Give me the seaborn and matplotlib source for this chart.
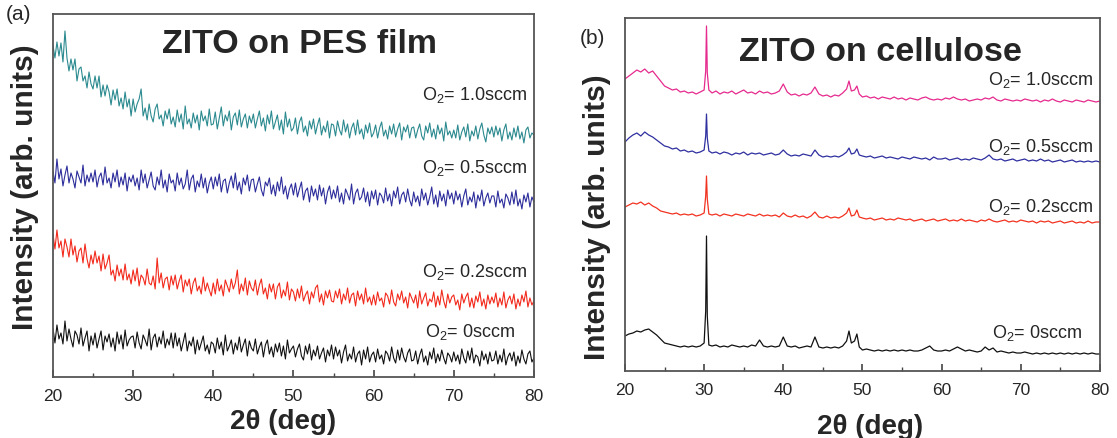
import numpy as np
import matplotlib
matplotlib.use("Agg")
import matplotlib.pyplot as plt
from matplotlib.ticker import MultipleLocator
import seaborn as sns

# ---------------- data (a): ZITO on PES film (2theta 20..80, 0.25 deg scan) ----------------
pes_10 = [332, 319, 335, 321, 334, 315, 346, 319, 306, 318, 307, 318, 296, 308, 310, 296, 301, 289, 305, 293,
          288, 301, 289, 301, 280, 292, 281, 292, 285, 272, 287, 277, 288, 271, 279, 268, 285, 270, 278, 261,
          278, 265, 273, 278, 288, 261, 269, 257, 273, 261, 255, 268, 273, 258, 262, 251, 266, 258, 268, 253,
          260, 250, 267, 255, 263, 248, 271, 253, 258, 249, 264, 254, 262, 247, 266, 256, 261, 251, 268, 252,
          253, 265, 248, 259, 270, 251, 262, 256, 266, 247, 260, 264, 252, 267, 250, 258, 263, 249, 261, 254,
          263, 249, 258, 266, 251, 259, 246, 262, 253, 266, 248, 255, 262, 247, 257, 243, 265, 250, 258, 246,
          249, 259, 243, 255, 260, 245, 251, 241, 256, 248, 258, 243, 252, 259, 242, 251, 245, 256, 239, 253,
          252, 241, 256, 247, 242, 257, 245, 253, 239, 249, 254, 242, 257, 243, 248, 238, 252, 244, 254, 240,
          244, 252, 239, 249, 255, 241, 247, 238, 251, 243, 253, 240, 248, 254, 237, 250, 245, 252, 239, 249,
          250, 239, 247, 253, 241, 237, 251, 244, 254, 240, 248, 238, 252, 243, 249, 236, 255, 242, 246, 239,
          247, 239, 252, 237, 245, 250, 240, 253, 236, 246, 241, 251, 238, 248, 254, 242, 235, 249, 243, 250,
          240, 251, 242, 249, 236, 247, 253, 238, 245, 237, 249, 240, 251, 238, 245, 234, 247, 250, 239, 244,
          242]
pes_05 = [206, 194, 218, 198, 208, 191, 202, 211, 194, 204, 198, 189, 206, 200, 194, 212, 191, 202, 195, 204,
          195, 207, 190, 200, 204, 192, 210, 194, 199, 189, 204, 195, 207, 190, 200, 192, 204, 186, 200, 195,
          202, 191, 199, 187, 207, 194, 203, 189, 197, 205, 191, 187, 200, 192, 207, 189, 197, 185, 203, 194,
          197, 186, 204, 192, 199, 188, 193, 207, 187, 198, 202, 185, 196, 190, 203, 189, 199, 184, 194, 200,
          188, 200, 191, 203, 185, 196, 198, 184, 194, 201, 189, 204, 187, 195, 183, 199, 192, 202, 186, 197,
          198, 185, 193, 200, 187, 181, 195, 191, 199, 183, 192, 181, 195, 186, 200, 183, 191, 178, 188, 193,
          182, 194, 180, 188, 195, 177, 186, 189, 175, 191, 181, 188, 177, 192, 181, 189, 173, 185, 191, 178,
          187, 179, 191, 175, 184, 173, 188, 183, 177, 193, 173, 184, 188, 177, 180, 189, 175, 185, 171, 186,
          178, 187, 172, 184, 181, 174, 189, 176, 183, 171, 186, 179, 190, 173, 182, 185, 175, 188, 177, 171,
          185, 175, 181, 171, 188, 177, 184, 172, 180, 190, 173, 182, 170, 186, 176, 183, 171, 187, 178, 184,
          173, 186, 177, 183, 170, 181, 188, 172, 180, 175, 185, 169, 182, 176, 187, 171, 179, 184, 174, 181,
          181, 170, 186, 174, 178, 169, 183, 179, 172, 185, 173, 187, 171, 178, 168, 182, 175, 184, 170, 180,
          175]
pes_02 = [143, 128, 147, 129, 136, 120, 138, 130, 120, 138, 122, 131, 115, 126, 129, 114, 133, 118, 109, 122,
          113, 126, 114, 121, 106, 123, 108, 114, 122, 102, 107, 96, 112, 101, 108, 97, 113, 97, 103, 93,
          107, 96, 109, 91, 102, 99, 92, 108, 94, 92, 101, 88, 119, 94, 104, 89, 98, 100, 87, 101,
          92, 102, 88, 96, 102, 85, 97, 91, 98, 83, 94, 99, 86, 91, 83, 100, 86, 94, 87, 81,
          94, 83, 98, 86, 92, 81, 97, 91, 85, 98, 88, 94, 107, 83, 93, 86, 99, 82, 96, 89,
          86, 97, 82, 92, 98, 83, 89, 78, 93, 85, 93, 78, 90, 94, 79, 87, 81, 95, 77, 88,
          85, 76, 88, 79, 91, 76, 82, 86, 73, 85, 79, 89, 92, 75, 83, 72, 86, 79, 87, 76,
          75, 86, 79, 88, 73, 83, 77, 89, 74, 82, 84, 71, 86, 77, 83, 73, 89, 75, 80, 72,
          82, 72, 85, 76, 79, 70, 84, 81, 73, 87, 75, 71, 83, 77, 86, 74, 80, 69, 84, 79,
          74, 82, 69, 86, 73, 79, 84, 71, 78, 75, 85, 70, 81, 72, 87, 76, 69, 83, 74, 80,
          82, 72, 77, 67, 83, 74, 80, 84, 70, 79, 69, 81, 75, 85, 71, 78, 68, 82, 73, 80,
          74, 84, 70, 79, 72, 85, 69, 77, 81, 73, 83, 68, 78, 71, 82, 75, 86, 70, 79, 72,
          76]
pes_00 = [49, 34, 52, 38, 44, 33, 56, 36, 48, 38, 30, 46, 42, 33, 49, 31, 39, 46, 26, 41,
          32, 44, 29, 38, 46, 27, 41, 35, 43, 30, 39, 26, 45, 33, 42, 28, 47, 31, 37, 40,
          41, 29, 45, 34, 28, 42, 37, 31, 48, 27, 39, 43, 30, 40, 33, 46, 29, 38, 32, 44,
          29, 44, 31, 39, 26, 35, 44, 26, 36, 31, 40, 23, 37, 27, 34, 41, 26, 32, 23, 35,
          33, 24, 39, 28, 35, 22, 42, 26, 31, 37, 23, 34, 27, 40, 25, 32, 38, 21, 36, 29,
          26, 38, 23, 30, 35, 20, 32, 37, 23, 30, 20, 33, 25, 34, 21, 31, 18, 37, 24, 28,
          31, 20, 28, 33, 21, 17, 31, 23, 33, 17, 27, 21, 31, 18, 24, 29, 15, 27, 21, 32,
          18, 30, 21, 27, 14, 25, 32, 16, 23, 18, 30, 15, 23, 26, 12, 27, 18, 30, 15, 22,
          25, 15, 28, 18, 22, 13, 26, 23, 16, 30, 19, 14, 27, 17, 29, 20, 15, 24, 28, 16,
          17, 26, 13, 22, 28, 15, 21, 12, 25, 18, 29, 14, 23, 16, 27, 19, 13, 24, 21, 15,
          25, 16, 22, 13, 28, 19, 14, 26, 17, 29, 14, 22, 20, 11, 26, 17, 23, 13, 25, 16,
          17, 26, 13, 22, 15, 28, 12, 20, 24, 16, 25, 11, 21, 14, 27, 18, 13, 23, 26, 15,
          19]

# ---------------- data (b): ZITO on cellulose ----------------
cel_x = np.concatenate([np.arange(20, 30, 0.5),
                        [30.0, 30.2, 30.3, 30.4, 30.6],
                        np.arange(31, 40.01, 0.5),
                        np.arange(40.5, 48.01, 0.5),
                        [48.3, 48.6, 49.0, 49.3, 49.6],
                        np.arange(50, 80.01, 0.5)])
cel_10 = ([292, 295, 298, 301, 299, 302, 298, 300, 295, 290, 285, 283, 281, 282, 279, 280, 278, 279, 277, 279]
          + [281, 300, 345, 298, 281]
          + [278, 280, 277, 279, 278, 280, 277, 279, 281, 278, 279, 277, 280, 278, 279, 277, 278, 280, 287]
          + [279, 276, 277, 275, 277, 276, 278, 284, 277, 275, 276, 274, 276, 275, 278, 282]
          + [290, 280, 281, 285, 277]
          + [274, 275, 273, 274, 272, 274, 273, 272, 274, 272,
             273, 271, 273, 272, 271, 273, 274, 272, 271, 272,
             271, 273, 272, 274, 272, 271, 272, 270, 271, 272,
             271, 273, 272, 274, 271, 270, 272, 271, 270, 271,
             270, 272, 271, 270, 271, 269, 271, 270, 272, 270,
             269, 271, 270, 269, 271, 270, 269, 271, 270, 269, 270])
cel_05 = ([229, 233, 236, 238, 235, 239, 236, 234, 231, 228, 225, 224, 222, 223, 220, 221, 219, 220, 218, 219]
          + [221, 235, 257, 233, 220]
          + [218, 219, 217, 219, 218, 216, 218, 217, 219, 216, 218, 217, 218, 216, 217, 218, 216, 217, 221]
          + [217, 215, 216, 215, 217, 216, 215, 221, 216, 214, 215, 214, 215, 214, 216, 219]
          + [223, 217, 218, 222, 216]
          + [215, 214, 215, 213, 214, 215, 213, 214, 213, 212,
             214, 213, 212, 214, 213, 212, 213, 211, 214, 212,
             212, 213, 211, 212, 213, 211, 212, 211, 213, 212,
             211, 213, 216, 212, 211, 212, 210, 211, 212, 210,
             211, 212, 210, 211, 210, 212, 210, 211, 209, 210,
             211, 209, 210, 211, 209, 210, 209, 210, 209, 210, 209])
cel_02 = ([164, 166, 168, 167, 169, 166, 168, 165, 163, 160, 159, 158, 157, 158, 156, 157, 156, 157, 155, 156]
          + [158, 175, 195, 172, 157]
          + [156, 157, 155, 157, 156, 155, 157, 156, 155, 157, 156, 155, 157, 155, 156, 155, 156, 154, 158]
          + [155, 154, 156, 154, 155, 153, 155, 159, 154, 153, 155, 153, 154, 153, 155, 158]
          + [163, 155, 156, 161, 154]
          + [153, 152, 153, 151, 152, 153, 151, 152, 151, 153,
             152, 151, 152, 150, 151, 152, 150, 151, 152, 150,
             151, 152, 150, 151, 150, 152, 150, 151, 150, 149,
             151, 150, 152, 150, 149, 150, 151, 149, 150, 149,
             151, 150, 149, 150, 148, 150, 149, 150, 148, 149,
             150, 148, 149, 150, 148, 149, 148, 150, 148, 149, 149])
cel_00 = ([35, 37, 38, 40, 39, 41, 42, 39, 36, 32, 28, 27, 26, 25, 24, 25, 24, 25, 24, 25]
          + [28, 60, 135, 55, 26]
          + [25, 26, 24, 25, 24, 26, 25, 24, 25, 24, 26, 25, 31, 25, 24, 25, 24, 25, 34]
          + [25, 24, 25, 23, 24, 25, 24, 34, 24, 23, 24, 23, 24, 23, 25, 30]
          + [40, 28, 30, 37, 24]
          + [21, 22, 21, 20, 21, 20, 21, 20, 21, 20,
             21, 20, 21, 20, 20, 21, 23, 25, 21, 20,
             20, 21, 20, 22, 24, 22, 20, 21, 20, 19,
             20, 24, 21, 23, 19, 20, 19, 18, 19, 18,
             18, 19, 18, 17, 18, 17, 18, 17, 18, 17,
             18, 17, 18, 17, 18, 17, 18, 17, 18, 17, 17])

labels = ["O$_2$= 1.0sccm", "O$_2$= 0.5sccm", "O$_2$= 0.2sccm", "O$_2$= 0sccm"]

# ---------------- styling ----------------
sns.set_style("white")
plt.rcParams["font.family"] = ["Liberation Sans", "DejaVu Sans"]
plt.rcParams["mathtext.fontset"] = "custom"
plt.rcParams["mathtext.rm"] = "Liberation Sans"
plt.rcParams["mathtext.it"] = "Liberation Sans:italic"
plt.rcParams["mathtext.bf"] = "Liberation Sans:bold"

fig = plt.figure(figsize=(11.17, 4.39), dpi=100)
axA = fig.add_axes([0.0474, 0.1390, 0.4306, 0.8269])
axB = fig.add_axes([0.5595, 0.1526, 0.4252, 0.8041])

pes_series = [pes_10, pes_05, pes_02, pes_00]
pes_colors = ["#2b8a8f", "#2d2d9c", "#f22a1c", "#111111"]
for vals, col in zip(pes_series, pes_colors):
    xs = np.linspace(20, 80, len(vals))
    sns.lineplot(x=xs, y=vals, ax=axA, color=col, linewidth=0.8,
                 estimator=None, sort=False, legend=False)

cel_series = [cel_10, cel_05, cel_02, cel_00]
cel_colors = ["#e62a8e", "#2f2fa0", "#f23220", "#111111"]
for vals, col in zip(cel_series, cel_colors):
    sns.lineplot(x=cel_x, y=vals, ax=axB, color=col, linewidth=0.9,
                 estimator=None, sort=False, legend=False)

for ax, ymax in ((axA, 363), (axB, 353)):
    ax.set_xlim(20, 80)
    ax.set_ylim(0, ymax)
    ax.set_xticks(range(20, 81, 10))
    ax.xaxis.set_minor_locator(MultipleLocator(5))
    ax.set_yticks([])
    ax.tick_params(axis="x", which="major", direction="in", length=5, width=1.2,
                   labelsize=12.5, pad=8, color="#444444", bottom=True, top=False)
    ax.tick_params(axis="x", which="minor", direction="in", length=3, width=1.0,
                   color="#444444", bottom=True, top=False)
    for sp in ax.spines.values():
        sp.set_visible(True)
        sp.set_color("#555555")
        sp.set_linewidth(1.3)
    ax.set_xlabel("2θ (deg)", fontsize=20, fontweight="bold")
    ax.set_ylabel("Intensity (arb. units)", fontsize=21.5, fontweight="bold")

axA.xaxis.set_label_coords(0.478, -0.085)
axB.xaxis.set_label_coords(0.516, -0.12)
axA.yaxis.set_label_coords(-0.03, 0.525)
axB.yaxis.set_label_coords(-0.03, 0.44)

axA.text(0.513, 0.92, "ZITO on PES film", transform=axA.transAxes,
         ha="center", va="center", fontsize=24.5, fontweight="bold")
axB.text(0.537, 0.906, "ZITO on cellulose", transform=axB.transAxes,
         ha="center", va="center", fontsize=24.5, fontweight="bold")

pes_lab_pos = [(79.1, 283), (79.1, 210), (79.1, 106), (77.7, 46)]
cel_lab_pos = [(79.1, 292), (79.1, 225), (79.1, 165), (77.7, 39)]
for (x, y), t in zip(pes_lab_pos, labels):
    axA.text(x, y, t, ha="right", va="center", fontsize=13)
for (x, y), t in zip(cel_lab_pos, labels):
    axB.text(x, y, t, ha="right", va="center", fontsize=13)

fig.text(0.005, 1 - 15 / 439, "(a)", ha="left", va="center", fontsize=15)
fig.text(0.519, 1 - 38 / 439, "(b)", ha="left", va="center", fontsize=15)

fig.savefig("out.png", dpi=100)
